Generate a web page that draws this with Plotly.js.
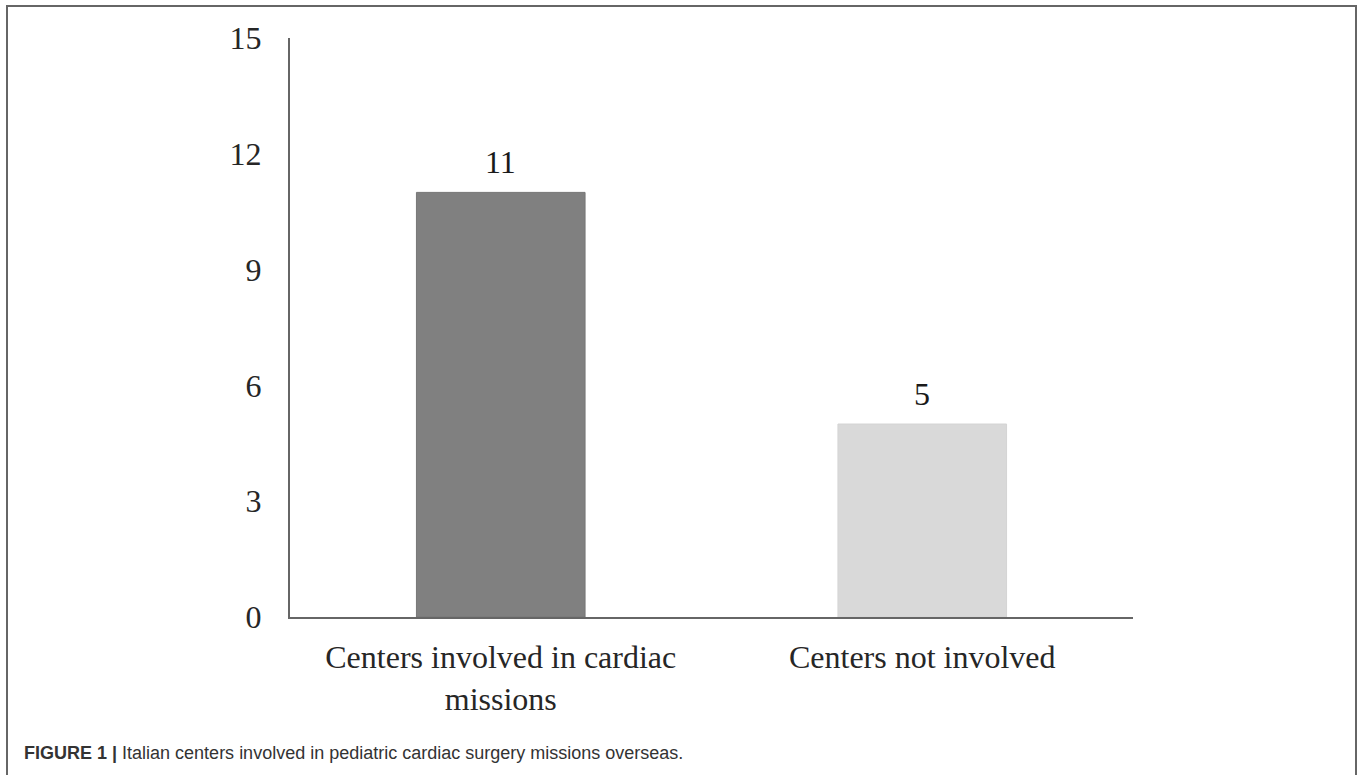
<!DOCTYPE html>
<html>
<head>
<meta charset="utf-8">
<script src="https://cdn.plot.ly/plotly-3.0.1.min.js"></script>
<style>html,body{margin:0;padding:0;background:#fff;}#chart{width:1360px;height:775px;}</style>
</head>
<body>
<div id="chart"></div>
<script>
const categories = ["Centers involved in cardiac<br>missions", "Centers not involved"];
const values = [11, 5];
const barColors = ["#808080", "#d9d9d9"];
const yTicks = [0, 3, 6, 9, 12, 15];
const captionBold = "FIGURE 1 |";
const captionText = "Italian centers involved in pediatric cardiac surgery missions overseas.";

const W = 1360, H = 775;
const L = 290, R = 1133, T = 38, B = 617;
const pw = R - L, ph = B - T;
const px = x => (x - L) / pw;
const py = y => (B - y) / ph;

const serif = "Liberation Serif, Times New Roman, serif";

const trace = {
  type: "bar",
  x: categories,
  y: values,
  marker: {color: barColors, line: {color: ["#767676", "#d4d4d4"], width: 1}},
  hoverinfo: "none"
};

const annotations = categories.map((c, i) => ({
  x: c, y: values[i], xref: "x", yref: "y",
  text: String(values[i]), showarrow: false,
  yanchor: "bottom", yshift: 10,
  font: {family: serif, size: 32, color: "#1a1a1a"}
}));
annotations.push({
  xref: "paper", yref: "paper", x: px(22), y: py(753),
  xanchor: "left", yanchor: "middle", showarrow: false,
  text: "<b>" + captionBold + "</b> " + captionText,
  font: {family: "Liberation Sans, Arial, sans-serif", size: 18, color: "#333"}
});

const layout = {
  width: W, height: H,
  margin: {l: L, r: W - R, t: T, b: H - B, pad: 0},
  paper_bgcolor: "#fff", plot_bgcolor: "#fff",
  showlegend: false,
  bargap: 0.6,
  font: {family: serif, color: "#222"},
  xaxis: {
    type: "category", range: [-0.5, 1.5],
    showline: true, linecolor: "#666", linewidth: 2,
    showgrid: false, zeroline: false, ticks: "",
    ticklabelstandoff: 11,
    tickfont: {family: serif, size: 32, color: "#262626"}
  },
  yaxis: {
    range: [0, 15], tickvals: yTicks, ticktext: yTicks.map(String),
    showline: true, linecolor: "#666", linewidth: 2,
    showgrid: false, zeroline: false, ticks: "",
    ticklabelstandoff: 20,
    tickfont: {family: serif, size: 32, color: "#262626"}
  },
  annotations: annotations,
  shapes: [{
    type: "path", xref: "paper", yref: "paper",
    path: "M " + px(7) + " " + py(790) + " L " + px(7) + " " + py(6) + " L " + px(1356) + " " + py(6) + " L " + px(1356) + " " + py(790),
    line: {color: "#666", width: 2}
  }]
};

Plotly.newPlot("chart", [trace], layout, {staticPlot: true, displayModeBar: false});
</script>
</body>
</html>
